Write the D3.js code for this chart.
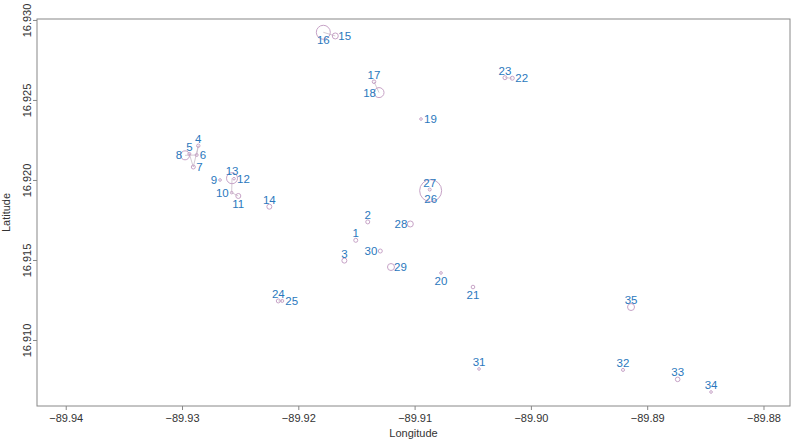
<!DOCTYPE html>
<html>
<head>
<meta charset="utf-8">
<script src="https://cdn.jsdelivr.net/npm/d3@7"></script>
<style>
  html, body { margin: 0; padding: 0; background: #fff; }
  svg { display: block; font-family: "Liberation Sans", Arial, sans-serif; }
</style>
</head>
<body>
<svg id="chart" width="798" height="443"></svg>
<script>
// ---- data ----
const ids = [1,2,3,4,5,6,7,8,9,10,11,12,13,14,15,16,17,18,19,20,21,22,23,24,25,26,27,28,29,30,31,32,33,34,35];
const longitude = [-89.91506,-89.91403,-89.91604,-89.92860,-89.92937,-89.92874,-89.92903,-89.92974,-89.92673,-89.92573,
                   -89.92516,-89.92553,-89.92570,-89.92249,-89.91682,-89.91785,-89.91349,-89.91306,-89.90945,-89.90773,
                   -89.90498,-89.90160,-89.90223,-89.92172,-89.92138,-89.90862,-89.90870,-89.91037,-89.91203,-89.91295,
                   -89.90446,-89.89208,-89.88738,-89.88451,-89.89139];
const latitude  = [16.91623,16.91738,16.91496,16.92214,16.92163,16.92156,16.92081,16.92154,16.92000,16.91921,
                   16.91900,16.92008,16.92011,16.91833,16.92900,16.92923,16.92614,16.92546,16.92381,16.91419,
                   16.91331,16.92636,16.92639,16.91244,16.91244,16.91933,16.91940,16.91725,16.91456,16.91556,
                   16.90819,16.90813,16.90754,16.90675,16.91206];
const magnitude = [20,20,25,17,15,15,20,45,13,13,
                   25,13,55,25,30,70,18,50,13,13,
                   18,20,20,20,15,110,15,30,35,20,
                   13,15,23,13,35];
// label side: 1 below, 2 left, 3 above, 4 right
const labelSide = [3,3,3,3,3,4,4,2,2,2,
                   1,4,3,3,4,1,3,2,4,1,
                   1,4,3,3,4,1,3,2,4,2,
                   3,3,3,3,3];
const links = [[4,7],[5,7],[8,6],[4,6],[13,10],[10,11],[17,18],[16,15],[23,22],[24,25],[27,26]];
const xTicks = [-89.94,-89.93,-89.92,-89.91,-89.90,-89.89,-89.88];
const yTicks = [16.910,16.915,16.920,16.925,16.930];

// ---- layout ----
const svg = d3.select("#chart");
const box = {left: 37, right: 790, top: 19, bottom: 406};
const x = d3.scaleLinear().domain([-89.94247, -89.87772]).range([box.left, box.right]);
const y = d3.scaleLinear().domain([16.905875, 16.93006]).range([box.bottom, box.top]);
const r = d3.scaleLinear().domain([0, 110]).range([0, 11]);

const pts = ids.map((id, i) => ({id, lon: longitude[i], lat: latitude[i], m: magnitude[i], side: labelSide[i]}));
const byId = new Map(pts.map(p => [p.id, p]));

// axes
const xAxis = d3.axisBottom(x).tickValues(xTicks).tickFormat(d3.format(".2f")).tickSize(4).tickPadding(4);
const gx = svg.append("g").attr("transform", `translate(0,${box.bottom})`).call(xAxis);
gx.select(".domain").remove();
gx.selectAll(".tick line").attr("stroke", "#888");
gx.selectAll(".tick text").attr("fill", "#333").attr("font-size", 11).attr("font-family", "Liberation Sans, Arial, sans-serif");

const yAxis = d3.axisLeft(y).tickValues(yTicks).tickFormat(d3.format(".3f")).tickSize(4).tickPadding(4);
const gy = svg.append("g").attr("transform", `translate(${box.left},0)`).call(yAxis);
gy.select(".domain").remove();
gy.selectAll(".tick line").attr("stroke", "#888");
gy.selectAll(".tick text")
  .attr("fill", "#333").attr("font-size", 11).attr("font-family", "Liberation Sans, Arial, sans-serif")
  .attr("text-anchor", "middle").attr("dy", null).attr("x", null)
  .attr("transform", "translate(-10,0) rotate(-90)")
  .attr("dominant-baseline", "central");

svg.append("rect")
  .attr("x", box.left).attr("y", box.top)
  .attr("width", box.right - box.left).attr("height", box.bottom - box.top)
  .attr("fill", "none").attr("stroke", "#888").attr("stroke-width", 1);

svg.append("text").attr("x", (box.left + box.right) / 2).attr("y", 437)
  .attr("text-anchor", "middle").attr("font-size", 11).attr("fill", "#333").text("Longitude");
svg.append("text").attr("transform", `translate(10,${(box.top + box.bottom) / 2}) rotate(-90)`)
  .attr("text-anchor", "middle").attr("font-size", 11).attr("fill", "#333").text("Latitude");

// links
svg.append("g").selectAll("line").data(links).join("line")
  .attr("x1", d => x(byId.get(d[0]).lon)).attr("y1", d => y(byId.get(d[0]).lat))
  .attr("x2", d => x(byId.get(d[1]).lon)).attr("y2", d => y(byId.get(d[1]).lat))
  .attr("stroke", "#c9bcc8").attr("stroke-width", 0.8);

// circles
svg.append("g").selectAll("circle").data(pts).join("circle")
  .attr("cx", d => x(d.lon)).attr("cy", d => y(d.lat)).attr("r", d => r(d.m))
  .attr("fill", "none").attr("stroke", "#c7a3c7").attr("stroke-width", 1);

// labels
const off = {1: [0, 8], 2: [-3, 0], 3: [0, -7], 4: [3, 0]};
const anchor = {1: "middle", 2: "end", 3: "middle", 4: "start"};
svg.append("g").selectAll("text").data(pts).join("text")
  .attr("x", d => x(d.lon) + off[d.side][0])
  .attr("y", d => y(d.lat) + off[d.side][1])
  .attr("text-anchor", d => anchor[d.side])
  .attr("dominant-baseline", "central")
  .attr("font-size", 11.5).attr("fill", "#2a78bd")
  .text(d => d.id);
</script>
</body>
</html>
